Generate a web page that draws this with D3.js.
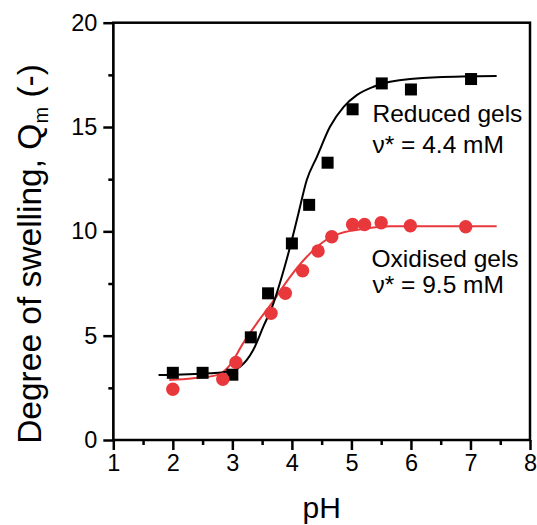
<!DOCTYPE html>
<html>
<head>
<meta charset="utf-8">
<script src="https://cdn.jsdelivr.net/npm/d3@7"></script>
<style>
  body { margin: 0; background: #fff; }
  svg { display: block; font-family: "Liberation Sans", Arial, sans-serif; }
</style>
</head>
<body>
<div class="container"></div>
<script>
const reducedPH = [2.0, 2.5, 3.0, 3.31, 3.6, 4.0, 4.29, 4.6, 5.02, 5.51, 6.0, 7.01];
const reducedQ  = [3.22, 3.22, 3.13, 4.92, 7.03, 9.42, 11.27, 13.29, 15.85, 17.09, 16.8, 17.3];
const oxidisedPH = [2.0, 2.84, 3.06, 3.65, 3.89, 4.18, 4.44, 4.67, 5.02, 5.22, 5.5, 5.99, 6.92];
const oxidisedQ  = [2.43, 2.91, 3.72, 6.07, 7.03, 8.11, 9.06, 9.74, 10.33, 10.33, 10.41, 10.27, 10.22];

// fitted curves
const reducedFitPH = [1.76, 2.63, 2.91, 3.13, 3.35, 3.52, 3.69, 3.83, 3.97, 4.11, 4.25, 4.42, 4.64, 4.87, 5.09, 5.37, 5.65, 6.44, 7.44];
const reducedFitQ  = [3.11, 3.2, 3.27, 3.51, 4.31, 5.43, 6.55, 7.82, 9.26, 10.86, 12.46, 13.57, 15.01, 15.97, 16.53, 16.93, 17.17, 17.38, 17.44];
const oxidisedFitPH = [1.94, 2.34, 2.74, 2.96, 3.18, 3.41, 3.66, 3.97, 4.25, 4.53, 4.81, 5.26, 5.65, 7.44];
const oxidisedFitQ  = [2.87, 2.96, 3.11, 3.59, 4.63, 5.59, 6.55, 7.82, 8.78, 9.5, 9.9, 10.14, 10.25, 10.25];

const xTicks = [1, 2, 3, 4, 5, 6, 7, 8];
const xMinor = [1.5, 2.5, 3.5, 4.5, 5.5, 6.5, 7.5];
const yTicks = [0, 5, 10, 15, 20];
const yMinor = [2.5, 7.5, 12.5, 17.5];

const w = 537;
const h = 525;
const margin = {top: 22.7, right: 7, bottom: 85, left: 113.3};
const red = "#e8383c";

const xScale = d3.scaleLinear().domain([1, 8]).range([margin.left, w - margin.right]);
const yScale = d3.scaleLinear().domain([0, 20]).range([h - margin.bottom, margin.top]);

const svg = d3.select(".container")
  .append("svg")
  .attr("width", w)
  .attr("height", h);

// minor ticks
svg.append("g")
  .attr("transform", "translate(0," + (h - margin.bottom) + ")")
  .call(d3.axisBottom(xScale).tickValues(xMinor).tickSize(5).tickFormat(""))
  .call(g => g.select(".domain").remove());
svg.append("g")
  .attr("transform", "translate(" + margin.left + ",0)")
  .call(d3.axisLeft(yScale).tickValues(yMinor).tickSize(5).tickFormat(""))
  .call(g => g.select(".domain").remove());

const xAxis = svg.append("g")
  .attr("id", "x-axis")
  .attr("transform", "translate(0," + (h - margin.bottom) + ")")
  .call(d3.axisBottom(xScale).tickValues(xTicks).tickSize(10).tickSizeOuter(0).tickPadding(4).tickFormat(d3.format("d")));

const yAxis = svg.append("g")
  .attr("id", "y-axis")
  .attr("transform", "translate(" + margin.left + ",0)")
  .call(d3.axisLeft(yScale).tickValues(yTicks).tickSize(10).tickSizeOuter(0).tickPadding(6).tickFormat(d3.format("d")));

svg.selectAll(".tick line").attr("stroke", "#000").attr("stroke-width", 2.5);
svg.selectAll(".tick text").attr("font-size", 23.5).attr("fill", "#000")
  .attr("font-family", "Liberation Sans, Arial, sans-serif");

// frame
svg.append("rect")
  .attr("x", xScale(1))
  .attr("y", yScale(20))
  .attr("width", xScale(8) - xScale(1))
  .attr("height", yScale(0) - yScale(20))
  .attr("fill", "none")
  .attr("stroke", "#000")
  .attr("stroke-width", 2.5);

// fit lines
const line = d3.line()
  .x(d => xScale(d[0]))
  .y(d => yScale(d[1]))
  .curve(d3.curveMonotoneX);

svg.append("path")
  .datum(oxidisedFitPH.map((x, i) => [x, oxidisedFitQ[i]]))
  .attr("d", line)
  .attr("fill", "none")
  .attr("stroke", red)
  .attr("stroke-width", 2);

svg.append("path")
  .datum(reducedFitPH.map((x, i) => [x, reducedFitQ[i]]))
  .attr("d", line)
  .attr("fill", "none")
  .attr("stroke", "#000")
  .attr("stroke-width", 2);

// markers
const sq = 12;
svg.selectAll("rect.reduced")
  .data(reducedPH.map((x, i) => [x, reducedQ[i]]))
  .enter()
  .append("rect")
  .attr("class", "reduced")
  .attr("x", d => xScale(d[0]) - sq / 2)
  .attr("y", d => yScale(d[1]) - sq / 2)
  .attr("width", sq)
  .attr("height", sq)
  .attr("fill", "#000");

svg.selectAll("circle.oxidised")
  .data(oxidisedPH.map((x, i) => [x, oxidisedQ[i]]))
  .enter()
  .append("circle")
  .attr("class", "oxidised")
  .attr("cx", d => xScale(d[0]))
  .attr("cy", d => yScale(d[1]))
  .attr("r", 6.7)
  .attr("fill", red);

// annotations
const notes = [
  ["Reduced gels", 372.5, 121.7],
  ["\u03bd* = 4.4 mM", 372.5, 152.7],
  ["Oxidised gels", 371.5, 266.7],
  ["\u03bd* = 9.5 mM", 372.5, 293.3]
];
svg.selectAll("text.note")
  .data(notes)
  .enter()
  .append("text")
  .attr("class", "note")
  .attr("x", d => d[1])
  .attr("y", d => d[2])
  .attr("font-size", 24.5)
  .attr("fill", "#000")
  .text(d => d[0]);

// axis titles
svg.append("text")
  .attr("x", (xScale(1) + xScale(8)) / 2)
  .attr("y", 518)
  .attr("text-anchor", "middle")
  .attr("font-size", 30)
  .text("pH");

const yTitle = svg.append("text")
  .attr("transform", "translate(41," + 254 + ") rotate(-90)")
  .attr("text-anchor", "middle")
  .attr("font-size", 33.5);
yTitle.append("tspan").text("Degree of swelling, Q");
yTitle.append("tspan").attr("font-size", 20).attr("dy", 7).text("m");
yTitle.append("tspan").attr("dy", -7).text(" (-)");
</script>
</body>
</html>
